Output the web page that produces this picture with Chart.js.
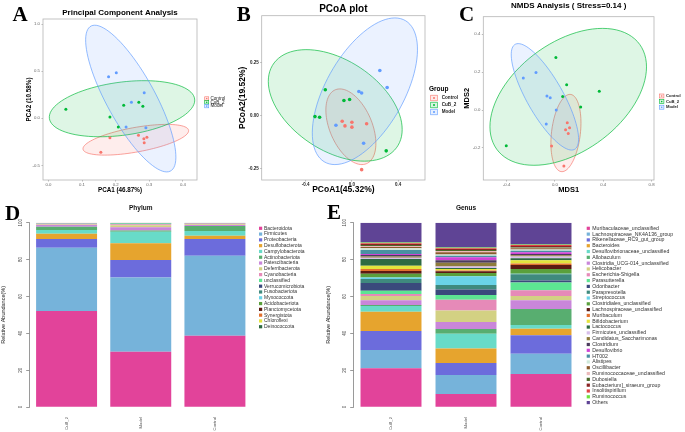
<!DOCTYPE html>
<html>
<head>
<meta charset="utf-8">
<script src="https://cdn.jsdelivr.net/npm/chart.js@4.4.1/dist/chart.umd.min.js"></script>
<style>
  html, body { margin: 0; background: #fff; }
  #fig { position: relative; width: 685px; height: 432px; overflow: hidden; background: #fff; }
  #fig canvas { position: absolute; }
</style>
</head>
<body>
<div id="fig">
  <canvas id="phylum" width="345" height="237" style="left:0;top:195px"></canvas>
  <canvas id="genus" width="360" height="237" style="left:325px;top:195px"></canvas>
  <canvas id="pca" width="230" height="195" style="left:0;top:0"></canvas>
  <canvas id="pcoa" width="250" height="195" style="left:228px;top:0"></canvas>
  <canvas id="nmds" width="230" height="195" style="left:455px;top:0"></canvas>
</div>
<script>
const FONT = '"Liberation Sans", Arial, sans-serif';

/* ---------- data ---------- */
const groups = ['Control', 'CuB_2', 'Model'];
const groupColors = ['#F8766D', '#00BA38', '#619CFF'];

// A - PCA scores
const pcaControl = [[0.183, -0.206], [0.268, -0.181], [0.284, -0.217], [0.293, -0.202], [0.285, -0.259], [0.156, -0.362]];
const pcaCuB     = [[0.052, 0.096], [0.183, 0.014], [0.208, -0.093], [0.224, 0.138], [0.269, 0.170], [0.281, 0.128]];
const pcaModel   = [[0.179, 0.443], [0.202, 0.485], [0.247, 0.170], [0.285, 0.272], [0.231, -0.093], [0.290, -0.100]];
// ellipses: centre x, centre y, half-axis a (x, y), half-axis b (x, y)
const pcaEllipses = [[0.260, -0.228, 0.157, 0.099, -0.004, 0.13], [0.219, 0.102, 0.216, 0.103, -0.01, 0.28], [0.245, 0.21, -0.107, 0.78, 0.081, 0]];
const pcaXTicks = [0, 0.1, 0.2, 0.3, 0.4];
const pcaYTicks = [-0.5, 0, 0.5, 1.0];

// B - PCoA
const pcoaControl = [[-0.084, -0.027], [-0.060, -0.049], [0.0, -0.032], [0.0, -0.055], [0.127, -0.039], [0.084, -0.256]];
const pcoaCuB     = [[-0.230, 0.122], [-0.319, -0.005], [-0.279, -0.008], [-0.069, 0.071], [-0.020, 0.076], [0.296, -0.167]];
const pcoaModel   = [[0.241, 0.213], [0.304, 0.133], [0.060, 0.114], [0.084, 0.107], [-0.138, -0.046], [0.101, -0.131]];
const pcoaEllipses = [[-0.009, -0.053, -0.095, 0.179, 0.194, 0], [-0.144, 0.048, 0.578, -0.114, 0, 0.238], [0.112, 0.115, 0.259, 0.347, 0.373, 0]];
const pcoaXTicks = [-0.4, 0, 0.4];
const pcoaYTicks = [-0.25, 0, 0.25];

// C - NMDS
const nmdsControl = [[0.102, -0.067], [0.121, -0.093], [0.088, -0.104], [0.110, -0.123], [-0.028, -0.190], [0.074, -0.295]];
const nmdsCuB     = [[-0.403, -0.188], [0.008, 0.278], [0.097, 0.134], [0.064, 0.072], [0.213, 0.016], [0.367, 0.099]];
const nmdsModel   = [[-0.262, 0.169], [-0.157, 0.199], [-0.066, 0.074], [-0.039, 0.065], [0.011, 0.0], [-0.072, -0.074]];
const nmdsEllipses = [[0.091, -0.121, 0.033, 0.204, 0.12, 0], [0.110, 0.070, 0.648, 0.158, 0, 0.325], [-0.083, 0.070, -0.221, 0.281, 0.17, 0]];
const nmdsXTicks = [-0.4, 0, 0.4, 0.8];
const nmdsYTicks = [-0.2, 0, 0.2, 0.4];

// D / E - relative abundance (%)
const samples = ['CuB_2', 'Model', 'Control'];
const abundanceTicks = [0, 20, 40, 60, 80, 100];
const palette = ['#E2439A', '#76B3DA', '#6C6CDC', '#E6A42E', '#68DBC8', '#58AE70', '#C986DA', '#D3D183', '#E68AB8', '#5DE592',
  '#3A4A7C', '#3F8A7E', '#6AD3E8', '#5AA03C', '#5C1A12', '#E2702E', '#E4E43C', '#2E6A42', '#D7BEEA', '#8E7B3C',
  '#4C3C5E', '#D043D6', '#4A90A2', '#CFE9DA', '#8C5A2C', '#EBBABA', '#4B6B2B', '#8A2424', '#E24444', '#6DE23C', '#5F4495'];

const phyla = ['Bacteroidota', 'Firmicutes', 'Proteobacteria', 'Desulfobacterota', 'Campylobacterota', 'Actinobacteriota',
  'Patescibacteria', 'Deferribacterota', 'Cyanobacteria', 'unclassified', 'Verrucomicrobiota', 'Fusobacteriota',
  'Myxococcota', 'Acidobacteriota', 'Planctomycetota', 'Synergistota', 'Chloroflexi', 'Deinococcota'];
const phylumCuB     = [52.1, 34.3, 4.7, 2.9, 2.0, 1.8, 0.9, 0.3, 0.4, 0.2, 0.1, 0.05, 0.05, 0.05, 0.05, 0.05, 0.03, 0.02];
const phylumModel   = [30.0, 40.2, 9.5, 9.1, 6.3, 0.7, 1.7, 1.1, 0.5, 0.4, 0.2, 0.1, 0.05, 0.05, 0.03, 0.03, 0.02, 0.02];
const phylumControl = [38.7, 43.4, 9.0, 1.8, 2.6, 2.7, 0.6, 0.3, 0.4, 0.2, 0.1, 0.05, 0.05, 0.03, 0.03, 0.02, 0.01, 0.01];

const genera = ['Muribaculaceae_unclassified', 'Lachnospiraceae_NK4A136_group', 'Rikenellaceae_RC9_gut_group', 'Bacteroides',
  'Desulfovibrionaceae_unclassified', 'Allobaculum', 'Clostridia_UCG-014_unclassified', 'Helicobacter', 'Escherichia-Shigella',
  'Parasutterella', 'Odoribacter', 'Paraprevotella', 'Streptococcus', 'Clostridiales_unclassified', 'Lachnospiraceae_unclassified',
  'Muribaculum', 'Bifidobacterium', 'Lactococcus', 'Firmicutes_unclassified', 'Candidatus_Saccharimonas', 'Clostridium',
  'Desulfovibrio', 'HT002', 'Alistipes', 'Oscillibacter', 'Ruminococcaceae_unclassified', 'Dubosiella',
  'Eubacterium]_siraeum_group', 'Insolitispirillum', 'Ruminococcus', 'Others'];
const genusCuB     = [21.0, 9.9, 10.3, 10.5, 3.1, 0.5, 2.6, 2.3, 1.1, 1.8, 4.2, 2.1, 0.8, 2.1, 1.5, 1.1, 1.8, 3.6, 0.7, 0.7, 0.8, 0.5, 2.2, 0.9, 0.7, 0.5, 0.6, 0.5, 0.4, 0.4, 10.8];
const genusModel   = [7.1, 10.3, 6.5, 7.9, 8.0, 2.5, 3.8, 6.3, 5.8, 2.6, 3.0, 2.4, 4.7, 1.8, 0.9, 0.5, 0.8, 0.5, 0.9, 2.0, 1.3, 1.6, 0.9, 0.7, 1.1, 0.7, 0.6, 0.5, 0.4, 0.5, 13.4];
const genusControl = [17.9, 11.0, 10.0, 3.6, 2.0, 8.7, 4.7, 2.3, 3.1, 4.3, 1.1, 3.3, 0.3, 2.6, 2.1, 0.9, 1.7, 1.1, 0.9, 0.7, 0.7, 0.9, 0.9, 0.7, 0.6, 0.3, 0.4, 0.5, 0.6, 0.3, 11.8];

/* ---------- helpers / plugins ---------- */
const rgba = (hex, a) => {
  const n = parseInt(hex.slice(1), 16);
  return `rgba(${n >> 16},${(n >> 8) & 255},${n & 255},${a})`;
};

// stat_ellipse look-alike, drawn through the chart scales
const ellipsePlugin = {
  id: 'ellipses',
  beforeDatasetsDraw(chart, args, o) {
    const {ctx, chartArea: ca, scales: {x, y}} = chart;
    ctx.save();
    ctx.beginPath();
    ctx.rect(ca.left, ca.top, ca.width, ca.height);
    ctx.clip();
    o.list.forEach(([cx, cy, ax, ay, bx, by], i) => {
      ctx.beginPath();
      for (let k = 0; k <= 90; k++) {
        const t = k / 90 * Math.PI * 2;
        const px = x.getPixelForValue(cx + Math.cos(t) * ax + Math.sin(t) * bx);
        const py = y.getPixelForValue(cy + Math.cos(t) * ay + Math.sin(t) * by);
        k ? ctx.lineTo(px, py) : ctx.moveTo(px, py);
      }
      ctx.closePath();
      ctx.fillStyle = rgba(groupColors[i], 0.13);
      ctx.fill();
      ctx.strokeStyle = rgba(groupColors[i], 0.85);
      ctx.lineWidth = 0.8;
      ctx.stroke();
    });
    ctx.restore();
  }
};

const panelBox = {
  id: 'panelBox',
  afterDatasetsDraw(chart) {
    const {ctx, chartArea: ca} = chart;
    ctx.save();
    ctx.strokeStyle = '#b5b5b5';
    ctx.lineWidth = 0.8;
    ctx.strokeRect(ca.left, ca.top, ca.width, ca.height);
    ctx.restore();
  }
};

const groupLegend = {
  id: 'groupLegend',
  afterDraw(chart, args, o) {
    const {ctx} = chart;
    ctx.save();
    ctx.textBaseline = 'middle';
    if (o.title) {
      ctx.font = `bold ${o.titleSize}px ${FONT}`;
      ctx.fillStyle = '#000';
      ctx.fillText(o.title, o.titleX, o.titleY);
    }
    ctx.font = `${o.weight} ${o.size}px ${FONT}`;
    chart.data.datasets.forEach((ds, i) => {
      const y = o.y + i * o.step;
      const c = ds.backgroundColor;
      ctx.fillStyle = rgba(c, 0.15);
      ctx.fillRect(o.x, y - o.h / 2, o.w, o.h);
      ctx.strokeStyle = c;
      ctx.lineWidth = 0.6;
      ctx.strokeRect(o.x, y - o.h / 2, o.w, o.h);
      ctx.fillStyle = c;
      ctx.beginPath();
      ctx.arc(o.x + o.w / 2, y, o.r, 0, Math.PI * 2);
      ctx.fill();
      ctx.fillStyle = '#222';
      ctx.fillText(ds.label, o.x + o.w + o.gap, y);
    });
    ctx.restore();
  }
};

const stackLegend = {
  id: 'stackLegend',
  afterDraw(chart, args, o) {
    const {ctx} = chart;
    ctx.save();
    ctx.textBaseline = 'middle';
    ctx.font = `${o.size}px ${FONT}`;
    chart.data.datasets.forEach((ds, i) => {
      const y = o.y + i * o.step;
      ctx.fillStyle = ds.backgroundColor;
      ctx.fillRect(o.x, y - o.box / 2, o.box, o.box);
      ctx.fillStyle = '#333';
      ctx.fillText(ds.label, o.x + o.box + o.gap, y);
    });
    ctx.restore();
  }
};

const letterPlugin = {
  id: 'letter',
  afterDraw(chart, args, o) {
    const {ctx} = chart;
    ctx.save();
    ctx.font = 'bold 21px "Liberation Serif", "Times New Roman", serif';
    ctx.fillStyle = '#000';
    ctx.textBaseline = 'alphabetic';
    ctx.fillText(o.text, o.x, o.y);
    ctx.restore();
  }
};

const axis = (o) => ({
  type: 'linear',
  min: o.min,
  max: o.max,
  afterBuildTicks: s => { s.ticks = o.ticks.map(v => ({value: v})); },
  afterFit: s => { if (o.width) s.width = o.width; if (o.height) s.height = o.height; },
  grid: { drawOnChartArea: false, tickLength: 1.5, color: '#8c8c8c', lineWidth: 0.6 },
  border: { display: false },
  ticks: {
    font: { family: FONT, size: o.tickSize, weight: o.tickWeight || 'normal' },
    color: o.tickColor, padding: o.tickPad,
    callback: v => Number(v).toFixed(o.dec)
  },
  title: {
    display: true, text: o.title, color: '#000',
    font: { family: FONT, size: o.titleSize, weight: 'bold' },
    padding: o.titlePad
  }
});

const scatterChart = (id, sets, ellipses, o) => new Chart(document.getElementById(id), {
  type: 'scatter',
  data: {
    datasets: groups.map((g, i) => ({
      label: g,
      data: sets[i].map(([x, y]) => ({x, y})),
      backgroundColor: groupColors[i],
      borderWidth: 0,
      pointRadius: o.r
    }))
  },
  options: {
    responsive: false,
    animation: false,
    layout: { padding: { left: 0, right: o.padRight, top: 0, bottom: 0 } },
    plugins: {
      legend: { display: false },
      tooltip: { enabled: false },
      title: {
        display: true, text: o.title, fullSize: false, color: '#000',
        font: { family: FONT, size: o.titleSize, weight: 'bold' },
        padding: o.titlePad
      },
      ellipses: { list: ellipses },
      groupLegend: o.legend,
      letter: o.letter
    },
    scales: { x: axis(o.x), y: axis(o.y) }
  },
  plugins: [ellipsePlugin, panelBox, groupLegend, letterPlugin]
});

const stackChart = (id, names, values, o) => new Chart(document.getElementById(id), {
  type: 'bar',
  data: {
    labels: samples,
    datasets: names.map((n, i) => ({
      label: n,
      data: values.map(v => v[i]),
      backgroundColor: palette[i],
      borderWidth: 0,
      barPercentage: 1,
      categoryPercentage: o.catPct
    }))
  },
  options: {
    responsive: false,
    animation: false,
    layout: { padding: { left: 0, right: o.padRight, top: 0, bottom: 0 } },
    plugins: {
      legend: { display: false },
      tooltip: { enabled: false },
      title: {
        display: true, text: o.title, fullSize: false, color: '#111',
        font: { family: FONT, size: 6.5, weight: 'bold' },
        padding: { top: 9.4, bottom: 10.5 }
      },
      stackLegend: o.legend,
      letter: o.letter
    },
    scales: {
      x: {
        stacked: true,
        afterFit: s => { s.height = 25; },
        grid: { display: false, drawTicks: false, tickLength: 0 },
        border: { display: false },
        ticks: { font: { family: FONT, size: 4.2 }, color: '#555', minRotation: 90, maxRotation: 90, padding: 10 }
      },
      y: {
        stacked: true, min: 0, max: 100,
        afterBuildTicks: s => { s.ticks = abundanceTicks.map(v => ({value: v})); },
        afterFit: s => { s.width = o.axisWidth; },
        grid: { drawOnChartArea: false, tickLength: 3.3, color: '#555', lineWidth: 0.6 },
        border: { display: true, color: '#555', width: 0.6 },
        ticks: { font: { family: FONT, size: 4.5 }, color: '#444', minRotation: 90, crossAlign: 'center', padding: 2 },
        title: {
          display: true, text: 'Relative Abundance(%)', color: '#222',
          font: { family: FONT, size: 5.5 }, padding: { top: 0, bottom: 0 }
        }
      }
    }
  },
  plugins: [stackLegend, letterPlugin]
});

/* ---------- charts ---------- */
scatterChart('pca', [pcaControl, pcaCuB, pcaModel], pcaEllipses, {
  r: 1.5, padRight: 33,
  title: 'Principal Component Analysis', titleSize: 8, titlePad: { top: 8.2, bottom: 1.2 },
  x: { min: -0.016, max: 0.442, ticks: pcaXTicks, dec: 1, height: 15, tickSize: 4.3, tickColor: '#666', tickPad: 0.5,
       title: 'PCA1 (46.87%)', titleSize: 6.3, titlePad: { top: 0, bottom: 1.2 } },
  y: { min: -0.656, max: 1.056, ticks: pcaYTicks, dec: 1, width: 43, tickSize: 4.3, tickColor: '#666', tickPad: 1.5,
       title: 'PCA2 (10.58%)', titleSize: 6.3, titlePad: { top: 25.5, bottom: 0 } },
  legend: { x: 204.7, y: 98.5, step: 3.8, w: 4, h: 3.4, r: 0.8, gap: 1.8, size: 4.6, weight: 'normal' },
  letter: { text: 'A', x: 12.5, y: 20.7 }
});

scatterChart('pcoa', [pcoaControl, pcoaCuB, pcoaModel], pcoaEllipses, {
  r: 1.8, padRight: 53,
  title: 'PCoA plot', titleSize: 10, titlePad: { top: 3, bottom: 0.7 },
  x: { min: -0.779, max: 0.631, ticks: pcoaXTicks, dec: 1, height: 15, tickSize: 4.5, tickWeight: 'bold', tickColor: '#222', tickPad: 0.5,
       title: 'PCoA1(45.32%)', titleSize: 8.5, titlePad: { top: 0, bottom: 0 } },
  y: { min: -0.305, max: 0.4725, ticks: pcoaYTicks, dec: 2, width: 33.7, tickSize: 4.5, tickWeight: 'bold', tickColor: '#222', tickPad: 1.5,
       title: 'PCoA2(19.52%)', titleSize: 8.5, titlePad: { top: 9.2, bottom: 0 } },
  legend: { title: 'Group', titleSize: 6.5, titleX: 201, titleY: 89, x: 202.7, y: 98, step: 7, w: 6.6, h: 5.6, r: 1, gap: 4.4, size: 4.6, weight: 'bold' },
  letter: { text: 'B', x: 8.7, y: 20.7 }
});

scatterChart('nmds', [nmdsControl, nmdsCuB, nmdsModel], nmdsEllipses, {
  r: 1.5, padRight: 31,
  title: 'NMDS Analysis ( Stress=0.14 )', titleSize: 8, titlePad: { top: 1.2, bottom: 5.9 },
  x: { min: -0.593, max: 0.820, ticks: nmdsXTicks, dec: 1, height: 15, tickSize: 4.3, tickColor: '#666', tickPad: 0.5,
       title: 'MDS1', titleSize: 7.5, titlePad: { top: 0, bottom: 0.5 } },
  y: { min: -0.369, max: 0.493, ticks: nmdsYTicks, dec: 1, width: 28.3, tickSize: 4.3, tickColor: '#666', tickPad: 1.5,
       title: 'MDS2', titleSize: 7.5, titlePad: { top: 7.2, bottom: 0 } },
  legend: { x: 204.5, y: 96, step: 5.6, w: 4.4, h: 4, r: 0.8, gap: 2, size: 4.2, weight: 'bold' },
  letter: { text: 'C', x: 4, y: 21 }
});

stackChart('phylum', phyla, [phylumCuB, phylumModel, phylumControl], {
  title: 'Phylum', catPct: 0.822, padRight: 93, axisWidth: 29.5,
  legend: { x: 259, y: 33.3, step: 5.79, box: 3.2, gap: 1.8, size: 5 },
  letter: { text: 'D', x: 5, y: 25 }
});

stackChart('genus', genera, [genusCuB, genusModel, genusControl], {
  title: 'Genus', catPct: 0.813, padRight: 106.5, axisWidth: 28.5,
  legend: { x: 261.7, y: 33.3, step: 5.81, box: 3.2, gap: 2.4, size: 5.2 },
  letter: { text: 'E', x: 2, y: 24 }
});
</script>
</body>
</html>
